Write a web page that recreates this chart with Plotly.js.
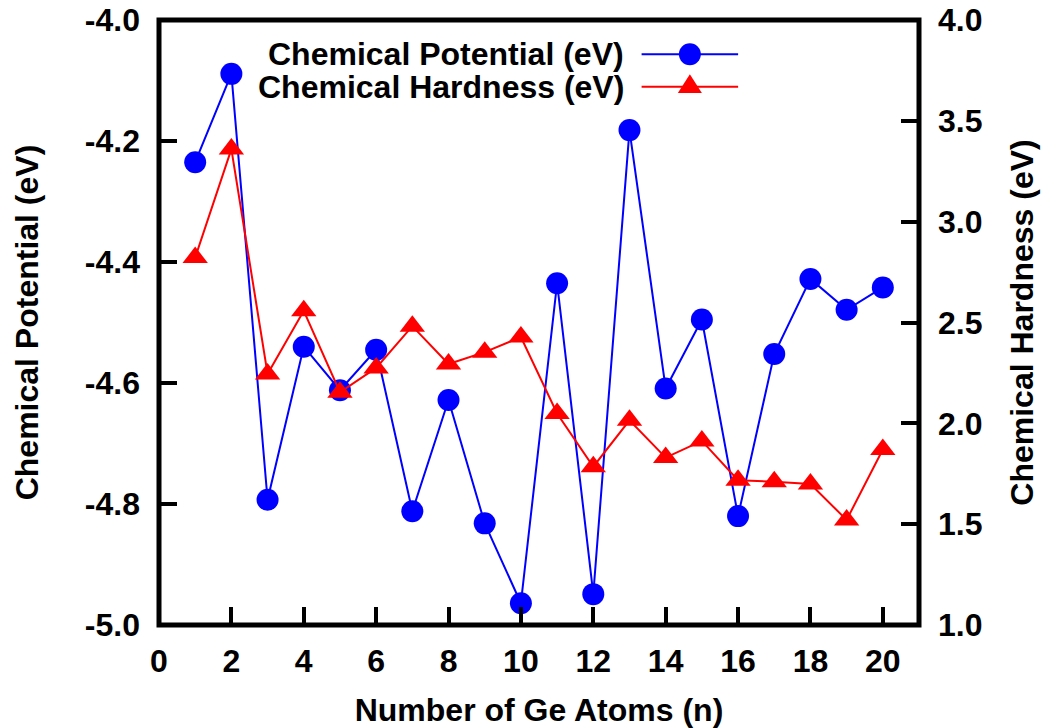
<!DOCTYPE html>
<html>
<head>
<meta charset="utf-8">
<script src="https://cdn.plot.ly/plotly-3.0.1.min.js"></script>
<style>
  html, body { margin: 0; padding: 0; background: #fff; }
  #chart { width: 1056px; height: 728px; }
</style>
</head>
<body>
<div id="chart"></div>
<script>
// Ge_n clusters: chemical potential and chemical hardness versus cluster size
const atoms = [1, 2, 3, 4, 5, 6, 7, 8, 9, 10, 11, 12, 13, 14, 15, 16, 17, 18, 19, 20];
const chemicalPotential = [-4.235, -4.089, -4.793, -4.540, -4.612, -4.545, -4.812, -4.628, -4.832, -4.964,
                           -4.435, -4.949, -4.182, -4.609, -4.495, -4.820, -4.552, -4.428, -4.479, -4.442];
const chemicalHardness = [2.822, 3.360, 2.245, 2.558, 2.154, 2.275, 2.482, 2.294, 2.353, 2.428,
                          2.049, 1.785, 2.015, 1.830, 1.913, 1.718, 1.710, 1.699, 1.521, 1.870];
const potentialTicks = [-5.0, -4.8, -4.6, -4.4, -4.2, -4.0];
const potentialTickText = ['-5.0', '-4.8', '-4.6', '-4.4', '-4.2', '-4.0'];
const potentialLabel = 'Chemical Potential (eV)';
const hardnessLabel = 'Chemical Hardness (eV)';
const atomsLabel = 'Number of Ge Atoms (n)';

const BLUE = '#0000ff';
const RED = '#ff0000';
const FONT = { family: 'Liberation Sans, Arial, Helvetica, sans-serif', size: 32, color: '#000', weight: 'bold' };

const traces = [
  {
    x: atoms, y: chemicalPotential, name: potentialLabel,
    type: 'scatter', mode: 'lines+markers', yaxis: 'y',
    line: { color: BLUE, width: 2 },
    marker: { symbol: 'circle', size: 22, color: BLUE, line: { width: 0 } }
  },
  {
    x: atoms, y: chemicalHardness, name: hardnessLabel,
    type: 'scatter', mode: 'lines+markers', yaxis: 'y2',
    line: { color: RED, width: 2 },
    marker: { symbol: 'triangle-up', size: 22, color: RED, line: { width: 0 } }
  }
];

// key entries: text on the left, line sample with symbol on the right
const keyX0 = 0.635, keyX1 = 0.762, keyMid = 0.6985, keyText = 0.614;
const keyY = [0.9434, 0.8898];

const layout = {
  width: 1056, height: 728,
  margin: { l: 159, r: 137, t: 20, b: 103 },
  paper_bgcolor: '#fff', plot_bgcolor: '#fff',
  showlegend: false,
  font: FONT,
  xaxis: {
    range: [0, 21], tick0: 0, dtick: 2,
    ticks: 'inside', ticklen: 18, tickwidth: 4, tickcolor: '#000',
    showline: false, showgrid: false, zeroline: false,
    tickfont: FONT, ticklabelstandoff: 14,
    title: { text: atomsLabel, font: FONT, standoff: 22 }
  },
  yaxis: {
    range: [-5, -4], tickmode: 'array', tickvals: potentialTicks, ticktext: potentialTickText,
    ticks: 'inside', ticklen: 18, tickwidth: 4, tickcolor: '#000',
    showline: false, showgrid: false, zeroline: false,
    tickfont: FONT, ticklabelstandoff: 18,
    title: { text: potentialLabel, font: FONT, standoff: 36 }
  },
  yaxis2: {
    range: [1, 4], tick0: 1, dtick: 0.5, tickformat: '.1f',
    overlaying: 'y', side: 'right',
    ticks: 'inside', ticklen: 18, tickwidth: 4, tickcolor: '#000',
    showline: false, showgrid: false, zeroline: false,
    tickfont: FONT, ticklabelstandoff: 18,
    title: { text: hardnessLabel, font: FONT, standoff: 29 }
  },
  shapes: [
    { type: 'rect', xref: 'paper', yref: 'paper', x0: 0, x1: 1, y0: 0, y1: 1,
      line: { color: '#000', width: 5 }, layer: 'above' },
    { type: 'line', xref: 'paper', yref: 'paper', x0: keyX0, x1: keyX1, y0: keyY[0], y1: keyY[0],
      line: { color: BLUE, width: 2 } },
    { type: 'circle', xref: 'paper', yref: 'paper', xsizemode: 'pixel', ysizemode: 'pixel',
      xanchor: keyMid, yanchor: keyY[0], x0: -11, x1: 11, y0: -11, y1: 11,
      fillcolor: BLUE, line: { width: 0 } },
    { type: 'line', xref: 'paper', yref: 'paper', x0: keyX0, x1: keyX1, y0: keyY[1], y1: keyY[1],
      line: { color: RED, width: 2 } },
    { type: 'path', xref: 'paper', yref: 'paper', xsizemode: 'pixel', ysizemode: 'pixel',
      xanchor: keyMid, yanchor: keyY[1], path: 'M-12,-6.3 L12,-6.3 L0,12.5 Z',
      fillcolor: RED, line: { width: 0 } }
  ],
  annotations: [
    { xref: 'paper', yref: 'paper', x: keyText, y: keyY[0], xanchor: 'right', yanchor: 'middle',
      text: potentialLabel, showarrow: false, font: FONT },
    { xref: 'paper', yref: 'paper', x: keyText, y: keyY[1], xanchor: 'right', yanchor: 'middle',
      text: hardnessLabel, showarrow: false, font: FONT }
  ]
};

Plotly.newPlot('chart', traces, layout, { displayModeBar: false, staticPlot: true });
</script>
</body>
</html>
